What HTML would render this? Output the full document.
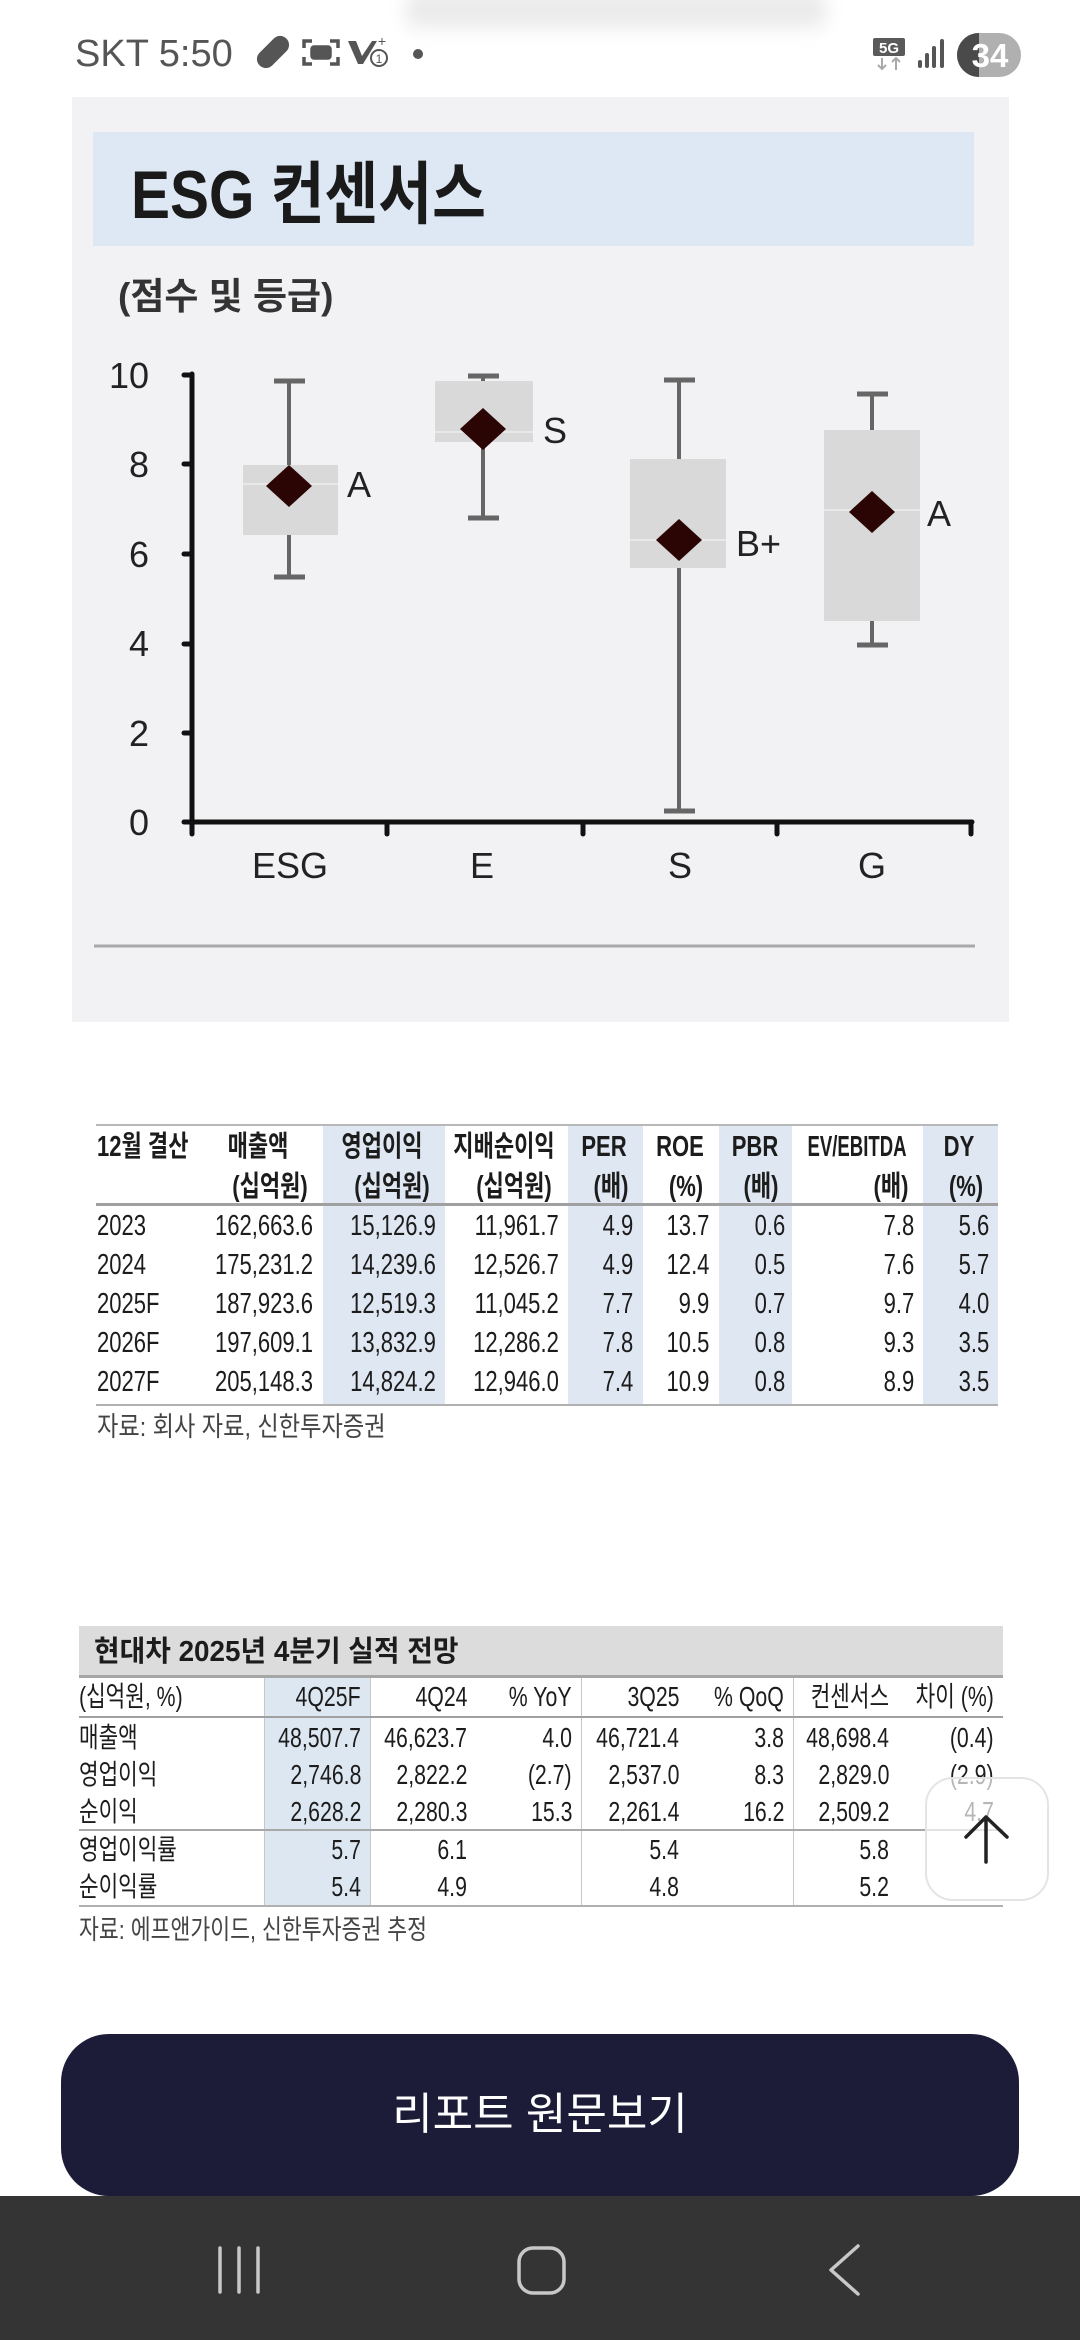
<!DOCTYPE html>
<html><head><meta charset="utf-8">
<style>
html,body{margin:0;padding:0;}
body{width:1080px;height:2340px;position:relative;overflow:hidden;background:#fff;font-family:"Liberation Sans","Noto Sans CJK KR",sans-serif;}
.a{position:absolute;}
.t{position:absolute;white-space:nowrap;font-family:"Liberation Sans","Noto Sans CJK KR",sans-serif;font-size:29px;line-height:40px;color:#1c1c1c;}
.r{transform-origin:right center;transform:scaleX(.76);}
.l{transform-origin:left center;transform:scaleX(.76);}
.c{transform:translateX(-50%) scaleX(.76);}
.b{font-weight:700;}
.t2{font-size:28px;}
</style></head>
<body>

<!-- status bar -->
<div class="a" style="left:406px;top:-8px;width:420px;height:36px;background:#e2e2e2;filter:blur(9px);opacity:.7;border-radius:10px;"></div>
<div class="a" style="left:75px;top:32px;font-size:38px;line-height:44px;color:#555;white-space:nowrap;">SKT 5:50</div>
<svg class="a" style="left:0;top:0" width="1080" height="96" viewBox="0 0 1080 96">
  <g transform="translate(273,52) rotate(-45)">
    <rect x="-19" y="-9" width="38" height="18" rx="9" fill="#555"/>
  </g>
  <g fill="none" stroke="#555" stroke-width="3.5">
    <path d="M304 48 v-7 h8 M330 41 h8 v7 M338 57 v7 h-8 M312 64 h-8 v-7"/>
    <rect x="312" y="47" width="18" height="11" rx="2" fill="#555"/>
  </g>
  <path d="M348 41 l8 0 l6 15 l10 -15 l5 0 l-14 23 l-5 0 z" fill="#555"/>
  <circle cx="379" cy="58" r="8" fill="#fff" stroke="#555" stroke-width="2"/>
  <text x="379" y="63" font-size="12" text-anchor="middle" fill="#555" font-family="Liberation Sans">1</text>
  <text x="382" y="46" font-size="14" text-anchor="middle" fill="#555" font-family="Liberation Sans">+</text>
  <circle cx="418" cy="54" r="5" fill="#555"/>
  <rect x="873" y="38" width="32" height="18" rx="2" fill="#5a5a5a"/>
  <text x="889" y="53" font-size="15" font-weight="700" text-anchor="middle" fill="#fff" font-family="Liberation Sans">5G</text>
  <path d="M882 58 v11 M878 65 l4 4 l4 -4 M896 70 v-11 M892 62 l4 -4 l4 4" stroke="#aaa" stroke-width="2" fill="none"/>
  <rect x="918" y="60" width="4" height="8" rx="2" fill="#555"/>
  <rect x="925" y="53" width="4" height="15" rx="2" fill="#555"/>
  <rect x="932" y="46" width="4" height="22" rx="2" fill="#555"/>
  <rect x="940" y="39" width="4" height="29" rx="2" fill="#555"/>
  <rect x="957" y="33" width="64" height="44" rx="22" fill="#b0b0b0"/>
  <path d="M979 33 A22 22 0 0 0 979 77 Z" fill="#4a4a4a"/>
  <rect x="978" y="33" width="1" height="44" fill="#4a4a4a"/>
  <text x="990" y="67" font-size="33" font-weight="700" text-anchor="middle" fill="#fff" font-family="Liberation Sans">34</text>
</svg>

<!-- ESG chart panel -->
<svg class="a" style="left:0;top:0" width="1080" height="1040" viewBox="0 0 1080 1040">
  <rect x="72" y="97" width="937" height="925" fill="#f2f2f4"/>
  <rect x="93" y="132" width="881" height="114" fill="#dde8f4"/>
  <text transform="translate(131,218) scale(0.86,1)" x="0" y="0" font-size="68" font-weight="700" fill="#1a1a1a" font-family="Liberation Sans, Noto Sans CJK KR, sans-serif">ESG 컨센서스</text>
  <text transform="translate(118,309)" x="0" y="0" font-size="37" font-weight="700" fill="#333" font-family="Liberation Sans, Noto Sans CJK KR, sans-serif">(점수 및 등급)</text>

  <g font-family="Liberation Sans, sans-serif" font-size="36" fill="#222" text-anchor="end">
    <text x="149" y="388">10</text>
    <text x="149" y="477">8</text>
    <text x="149" y="567">6</text>
    <text x="149" y="656">4</text>
    <text x="149" y="746">2</text>
    <text x="149" y="835">0</text>
  </g>
  <g font-family="Liberation Sans, sans-serif" font-size="36" fill="#222" text-anchor="middle">
    <text x="290" y="878">ESG</text>
    <text x="482" y="878">E</text>
    <text x="680" y="878">S</text>
    <text x="872" y="878">G</text>
  </g>

  <g stroke="#666" stroke-width="4" fill="none">
    <line x1="289" y1="381" x2="289" y2="577"/>
    <line x1="483" y1="376" x2="483" y2="518"/>
    <line x1="679" y1="380" x2="679" y2="811"/>
    <line x1="872" y1="394" x2="872" y2="645"/>
  </g>
  <g stroke="#666" stroke-width="5">
    <line x1="274" y1="381" x2="305" y2="381"/>
    <line x1="274" y1="577" x2="305" y2="577"/>
    <line x1="468" y1="376" x2="499" y2="376"/>
    <line x1="468" y1="518" x2="499" y2="518"/>
    <line x1="664" y1="380" x2="695" y2="380"/>
    <line x1="664" y1="811" x2="695" y2="811"/>
    <line x1="857" y1="394" x2="888" y2="394"/>
    <line x1="857" y1="645" x2="888" y2="645"/>
  </g>
  <g fill="#d9d9d9">
    <rect x="243" y="465" width="95" height="70"/>
    <rect x="435" y="381" width="98" height="61"/>
    <rect x="630" y="459" width="96" height="109"/>
    <rect x="824" y="430" width="96" height="191"/>
  </g>
  <g stroke="#e8e8e8" stroke-width="2">
    <line x1="243" y1="484" x2="338" y2="484"/>
    <line x1="435" y1="432" x2="533" y2="432"/>
    <line x1="630" y1="540" x2="726" y2="540"/>
    <line x1="824" y1="510" x2="920" y2="510"/>
  </g>
  <g fill="#2b0404">
    <polygon points="289,465 312,486 289,507 266,486"/>
    <polygon points="483,408 506,429 483,450 460,429"/>
    <polygon points="679,519 702,540 679,561 656,540"/>
    <polygon points="872,491 895,512 872,533 849,512"/>
  </g>
  <g font-family="Liberation Sans, sans-serif" font-size="36" fill="#222">
    <text x="347" y="497">A</text>
    <text x="543" y="443">S</text>
    <text x="736" y="556">B+</text>
    <text x="927" y="526">A</text>
  </g>

  <g stroke="#111" stroke-width="5" stroke-linecap="round">
    <line x1="192" y1="374" x2="192" y2="823"/>
    <line x1="190" y1="822" x2="972" y2="822"/>
    <line x1="184" y1="375" x2="192" y2="375"/>
    <line x1="184" y1="464" x2="192" y2="464"/>
    <line x1="184" y1="554" x2="192" y2="554"/>
    <line x1="184" y1="644" x2="192" y2="644"/>
    <line x1="184" y1="733" x2="192" y2="733"/>
    <line x1="184" y1="822" x2="192" y2="822"/>
    <line x1="192" y1="822" x2="192" y2="834"/>
    <line x1="387" y1="822" x2="387" y2="834"/>
    <line x1="583" y1="822" x2="583" y2="834"/>
    <line x1="777" y1="822" x2="777" y2="834"/>
    <line x1="971" y1="822" x2="971" y2="834"/>
  </g>
  <line x1="94" y1="946" x2="975" y2="946" stroke="#a8a8a8" stroke-width="3"/>
</svg>

<!-- Table 1 -->
<div class="a" style="left:323px;top:1125px;width:122px;height:280px;background:#dfe7f2;"></div>
<div class="a" style="left:568px;top:1125px;width:75px;height:280px;background:#dfe7f2;"></div>
<div class="a" style="left:719px;top:1125px;width:73px;height:280px;background:#dfe7f2;"></div>
<div class="a" style="left:923px;top:1125px;width:75px;height:280px;background:#dfe7f2;"></div>
<div class="a" style="left:96px;top:1124px;width:902px;height:2px;background:#b8b8b8;"></div>
<div class="a" style="left:96px;top:1203px;width:902px;height:3px;background:#a0a0a0;"></div>
<div class="a" style="left:96px;top:1404px;width:902px;height:2px;background:#b0b0b0;"></div>

<div class="t b l" style="left:97px;top:1127px;">12월 결산</div>
<div class="t b c" style="left:258px;top:1127px;">매출액</div>
<div class="t b c" style="left:382px;top:1127px;">영업이익</div>
<div class="t b c" style="left:504px;top:1127px;">지배순이익</div>
<div class="t b c" style="left:604px;top:1127px;">PER</div>
<div class="t b c" style="left:680px;top:1127px;">ROE</div>
<div class="t b c" style="left:755px;top:1127px;">PBR</div>
<div class="t b" style="left:857px;top:1127px;transform:translateX(-50%) scaleX(.64);">EV/EBITDA</div>
<div class="t b c" style="left:959px;top:1127px;">DY</div>

<div class="t b c" style="left:270px;top:1167px;">(십억원)</div>
<div class="t b c" style="left:392px;top:1167px;">(십억원)</div>
<div class="t b c" style="left:514px;top:1167px;">(십억원)</div>
<div class="t b c" style="left:611px;top:1167px;">(배)</div>
<div class="t b c" style="left:686px;top:1167px;">(%)</div>
<div class="t b c" style="left:761px;top:1167px;">(배)</div>
<div class="t b c" style="left:891px;top:1167px;">(배)</div>
<div class="t b c" style="left:966px;top:1167px;">(%)</div>

<div class="t l" style="left:97px;top:1206px;">2023</div>
<div class="t r" style="right:767px;top:1206px;">162,663.6</div>
<div class="t r" style="right:644px;top:1206px;">15,126.9</div>
<div class="t r" style="right:521px;top:1206px;">11,961.7</div>
<div class="t r" style="right:447px;top:1206px;">4.9</div>
<div class="t r" style="right:371px;top:1206px;">13.7</div>
<div class="t r" style="right:295px;top:1206px;">0.6</div>
<div class="t r" style="right:166px;top:1206px;">7.8</div>
<div class="t r" style="right:91px;top:1206px;">5.6</div>

<div class="t l" style="left:97px;top:1245px;">2024</div>
<div class="t r" style="right:767px;top:1245px;">175,231.2</div>
<div class="t r" style="right:644px;top:1245px;">14,239.6</div>
<div class="t r" style="right:521px;top:1245px;">12,526.7</div>
<div class="t r" style="right:447px;top:1245px;">4.9</div>
<div class="t r" style="right:371px;top:1245px;">12.4</div>
<div class="t r" style="right:295px;top:1245px;">0.5</div>
<div class="t r" style="right:166px;top:1245px;">7.6</div>
<div class="t r" style="right:91px;top:1245px;">5.7</div>

<div class="t l" style="left:97px;top:1284px;">2025F</div>
<div class="t r" style="right:767px;top:1284px;">187,923.6</div>
<div class="t r" style="right:644px;top:1284px;">12,519.3</div>
<div class="t r" style="right:521px;top:1284px;">11,045.2</div>
<div class="t r" style="right:447px;top:1284px;">7.7</div>
<div class="t r" style="right:371px;top:1284px;">9.9</div>
<div class="t r" style="right:295px;top:1284px;">0.7</div>
<div class="t r" style="right:166px;top:1284px;">9.7</div>
<div class="t r" style="right:91px;top:1284px;">4.0</div>

<div class="t l" style="left:97px;top:1323px;">2026F</div>
<div class="t r" style="right:767px;top:1323px;">197,609.1</div>
<div class="t r" style="right:644px;top:1323px;">13,832.9</div>
<div class="t r" style="right:521px;top:1323px;">12,286.2</div>
<div class="t r" style="right:447px;top:1323px;">7.8</div>
<div class="t r" style="right:371px;top:1323px;">10.5</div>
<div class="t r" style="right:295px;top:1323px;">0.8</div>
<div class="t r" style="right:166px;top:1323px;">9.3</div>
<div class="t r" style="right:91px;top:1323px;">3.5</div>

<div class="t l" style="left:97px;top:1362px;">2027F</div>
<div class="t r" style="right:767px;top:1362px;">205,148.3</div>
<div class="t r" style="right:644px;top:1362px;">14,824.2</div>
<div class="t r" style="right:521px;top:1362px;">12,946.0</div>
<div class="t r" style="right:447px;top:1362px;">7.4</div>
<div class="t r" style="right:371px;top:1362px;">10.9</div>
<div class="t r" style="right:295px;top:1362px;">0.8</div>
<div class="t r" style="right:166px;top:1362px;">8.9</div>
<div class="t r" style="right:91px;top:1362px;">3.5</div>

<div class="t l" style="left:97px;top:1407px;font-size:27px;color:#444;transform:scaleX(.86);">자료: 회사 자료, 신한투자증권</div>

<!-- Table 2 -->
<div class="a" style="left:79px;top:1626px;width:924px;height:50px;background:#dcdcdc;"></div>
<div class="t b" style="left:94px;top:1632px;font-size:29px;transform-origin:left center;transform:scaleX(.96);">현대차 2025년 4분기 실적 전망</div>
<div class="a" style="left:264px;top:1678px;width:106px;height:228px;background:#dde7f2;"></div>
<div class="a" style="left:79px;top:1675px;width:924px;height:3px;background:#a6a6a6;"></div>
<div class="a" style="left:264px;top:1678px;width:1px;height:228px;background:#c8c8c8;"></div>
<div class="a" style="left:370px;top:1678px;width:1px;height:228px;background:#c8c8c8;"></div>
<div class="a" style="left:581px;top:1678px;width:1px;height:228px;background:#c8c8c8;"></div>
<div class="a" style="left:793px;top:1678px;width:1px;height:228px;background:#c8c8c8;"></div>
<div class="a" style="left:79px;top:1716px;width:924px;height:2px;background:#a0a0a0;"></div>
<div class="a" style="left:79px;top:1829px;width:924px;height:2px;background:#a8a8a8;"></div>
<div class="a" style="left:79px;top:1905px;width:924px;height:2px;background:#b0b0b0;"></div>

<div class="t t2 l" style="left:79px;top:1677px;">(십억원, %)</div>
<div class="t t2 r" style="right:719px;top:1677px;">4Q25F</div>
<div class="t t2 r" style="right:613px;top:1677px;">4Q24</div>
<div class="t t2 r" style="right:508px;top:1677px;">% YoY</div>
<div class="t t2 r" style="right:401px;top:1677px;">3Q25</div>
<div class="t t2 r" style="right:296px;top:1677px;">% QoQ</div>
<div class="t t2 r" style="right:191px;top:1677px;">컨센서스</div>
<div class="t t2 r" style="right:86px;top:1677px;">차이 (%)</div>

<div class="t t2 l" style="left:79px;top:1718px;">매출액</div>
<div class="t t2 r" style="right:719px;top:1718px;">48,507.7</div>
<div class="t t2 r" style="right:613px;top:1718px;">46,623.7</div>
<div class="t t2 r" style="right:508px;top:1718px;">4.0</div>
<div class="t t2 r" style="right:401px;top:1718px;">46,721.4</div>
<div class="t t2 r" style="right:296px;top:1718px;">3.8</div>
<div class="t t2 r" style="right:191px;top:1718px;">48,698.4</div>
<div class="t t2 r" style="right:86px;top:1718px;">(0.4)</div>

<div class="t t2 l" style="left:79px;top:1755px;">영업이익</div>
<div class="t t2 r" style="right:719px;top:1755px;">2,746.8</div>
<div class="t t2 r" style="right:613px;top:1755px;">2,822.2</div>
<div class="t t2 r" style="right:508px;top:1755px;">(2.7)</div>
<div class="t t2 r" style="right:401px;top:1755px;">2,537.0</div>
<div class="t t2 r" style="right:296px;top:1755px;">8.3</div>
<div class="t t2 r" style="right:191px;top:1755px;">2,829.0</div>
<div class="t t2 r" style="right:86px;top:1755px;">(2.9)</div>

<div class="t t2 l" style="left:79px;top:1792px;">순이익</div>
<div class="t t2 r" style="right:719px;top:1792px;">2,628.2</div>
<div class="t t2 r" style="right:613px;top:1792px;">2,280.3</div>
<div class="t t2 r" style="right:508px;top:1792px;">15.3</div>
<div class="t t2 r" style="right:401px;top:1792px;">2,261.4</div>
<div class="t t2 r" style="right:296px;top:1792px;">16.2</div>
<div class="t t2 r" style="right:191px;top:1792px;">2,509.2</div>
<div class="t t2 r" style="right:86px;top:1792px;">4.7</div>

<div class="t t2 l" style="left:79px;top:1830px;">영업이익률</div>
<div class="t t2 r" style="right:719px;top:1830px;">5.7</div>
<div class="t t2 r" style="right:613px;top:1830px;">6.1</div>
<div class="t t2 r" style="right:401px;top:1830px;">5.4</div>
<div class="t t2 r" style="right:191px;top:1830px;">5.8</div>

<div class="t t2 l" style="left:79px;top:1867px;">순이익률</div>
<div class="t t2 r" style="right:719px;top:1867px;">5.4</div>
<div class="t t2 r" style="right:613px;top:1867px;">4.9</div>
<div class="t t2 r" style="right:401px;top:1867px;">4.8</div>
<div class="t t2 r" style="right:191px;top:1867px;">5.2</div>

<div class="t l" style="left:79px;top:1910px;font-size:27px;color:#444;transform:scaleX(.8);">자료: 에프앤가이드, 신한투자증권 추정</div>

<!-- floating scroll-top button -->
<div class="a" style="left:925px;top:1777px;width:120px;height:120px;border:2px solid #e4e4e4;border-radius:28px;background:rgba(255,255,255,0.68);"></div>
<svg class="a" style="left:925px;top:1777px" width="124" height="124" viewBox="0 0 124 124">
  <path d="M61 85 V40 M41 60 L61 40 L82 60" fill="none" stroke="#222" stroke-width="3.5" stroke-linecap="round" stroke-linejoin="round"/>
</svg>

<!-- bottom button -->
<div class="a" style="left:61px;top:2034px;width:958px;height:162px;background:#1d1c38;border-radius:48px;"></div>
<div class="a" style="left:61px;top:2034px;width:958px;height:162px;line-height:162px;text-align:center;color:#fff;font-family:'Liberation Sans','Noto Sans CJK KR',sans-serif;font-size:44px;">리포트 원문보기</div>

<!-- nav bar -->
<div class="a" style="left:0;top:2196px;width:1080px;height:144px;background:#343434;"></div>
<svg class="a" style="left:0;top:2196px" width="1080" height="144" viewBox="0 0 1080 144">
  <g stroke="#c8c8c8" stroke-width="3.5" fill="none" stroke-linecap="round" stroke-linejoin="round">
    <line x1="220" y1="52" x2="220" y2="96"/>
    <line x1="239" y1="52" x2="239" y2="96"/>
    <line x1="258" y1="52" x2="258" y2="96"/>
    <rect x="519" y="52" width="45" height="45" rx="14"/>
    <path d="M858 50 L831 74 L858 98"/>
  </g>
</svg>

</body></html>
